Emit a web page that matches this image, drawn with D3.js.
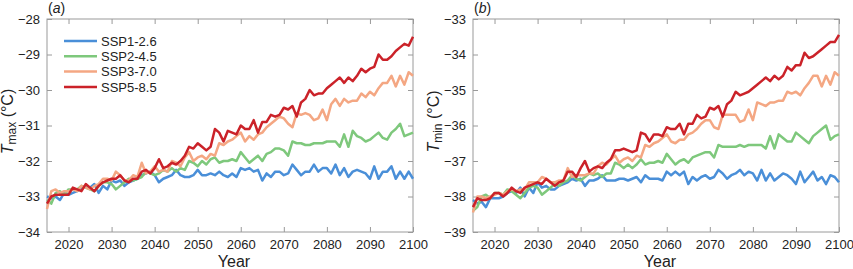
<!DOCTYPE html>
<html>
<head>
<meta charset="utf-8">
<script src="https://cdn.jsdelivr.net/npm/d3@7"></script>
<style>
  body { margin: 0; background: #fff; }
  svg { display: block; font-family: "Liberation Sans", Arial, sans-serif; }
</style>
</head>
<body>
<svg id="chart" width="853" height="269"></svg>
<script>
// years 2015..2100
var years = d3.range(2015, 2101);

var scenarios = ["SSP1-2.6", "SSP2-4.5", "SSP3-7.0", "SSP5-8.5"];
var colours = ["#4a8fd8", "#7ec87c", "#f4a783", "#cb2229"];

// panel (a) Tmax
var tmax126 = [-33.0,-33.05,-33.0,-33.1,-32.9,-32.95,-32.9,-32.85,-32.75,-32.7,-32.75,-32.65,-32.9,-32.7,-32.8,-32.55,-32.6,-32.55,-32.7,-32.6,-32.55,-32.5,-32.4,-32.35,-32.3,-32.4,-32.6,-32.5,-32.45,-32.4,-32.25,-32.4,-32.45,-32.45,-32.4,-32.25,-32.4,-32.4,-32.35,-32.4,-32.3,-32.4,-32.45,-32.35,-32.45,-32.2,-32.25,-32.2,-32.3,-32.25,-32.55,-32.35,-32.45,-32.3,-32.3,-32.4,-32.35,-32.1,-32.25,-32.4,-32.3,-32.3,-32.1,-32.3,-32.2,-32.2,-32.35,-32.1,-32.4,-32.2,-32.45,-32.3,-32.25,-32.3,-32.35,-32.5,-32.15,-32.5,-32.3,-32.3,-32.15,-32.5,-32.3,-32.5,-32.3,-32.5];
var tmax245 = [-33.1,-33.2,-32.9,-32.85,-32.95,-32.8,-32.8,-32.8,-32.7,-32.75,-32.8,-32.85,-32.7,-32.6,-32.6,-32.65,-32.8,-32.7,-32.6,-32.5,-32.55,-32.5,-32.45,-32.3,-32.35,-32.4,-32.35,-32.25,-32.3,-32.2,-32.3,-32.2,-32.25,-32.0,-32.05,-32.15,-32.0,-32.1,-31.95,-31.9,-32.05,-32.0,-32.0,-31.95,-32.0,-31.75,-31.9,-32.05,-31.95,-31.85,-32.0,-31.8,-31.75,-31.65,-31.65,-31.7,-31.85,-31.45,-31.5,-31.5,-31.55,-31.55,-31.5,-31.5,-31.5,-31.45,-31.45,-31.45,-31.6,-31.25,-31.6,-31.15,-31.3,-31.35,-31.45,-31.4,-31.3,-31.2,-31.35,-31.4,-31.2,-31.1,-30.95,-31.3,-31.25,-31.2];
var tmax370 = [-33.35,-32.85,-32.8,-32.9,-32.85,-32.85,-32.8,-32.85,-32.7,-32.75,-32.8,-32.7,-32.65,-32.5,-32.5,-32.55,-32.3,-32.4,-32.55,-32.55,-32.4,-32.45,-32.05,-32.35,-32.3,-32.15,-32.3,-32.25,-32.3,-32.0,-32.05,-32.15,-31.9,-31.75,-32.0,-31.9,-31.85,-31.95,-31.8,-31.85,-31.5,-31.55,-31.45,-31.4,-31.3,-31.2,-31.45,-31.3,-31.4,-31.25,-31.2,-31.05,-30.95,-30.85,-30.75,-30.8,-30.95,-31.05,-30.65,-30.7,-30.65,-30.7,-30.85,-30.8,-30.55,-30.85,-30.4,-30.25,-30.45,-30.25,-30.35,-30.3,-30.3,-30.1,-30.2,-30.05,-30.15,-29.95,-29.8,-29.8,-29.6,-29.9,-29.6,-29.85,-29.5,-29.6];
var tmax585 = [-33.2,-33.0,-32.95,-32.95,-32.95,-32.95,-32.75,-32.8,-32.85,-32.65,-32.75,-32.85,-32.7,-32.6,-32.55,-32.5,-32.5,-32.4,-32.55,-32.6,-32.5,-32.5,-32.3,-32.25,-32.35,-32.2,-31.95,-32.2,-32.15,-32.05,-32.1,-32.0,-31.85,-31.6,-31.65,-31.5,-31.6,-31.7,-31.6,-31.1,-31.2,-31.45,-31.15,-31.2,-31.25,-31.0,-31.1,-31.1,-30.85,-31.2,-30.9,-30.9,-30.7,-30.75,-30.7,-30.5,-30.55,-30.45,-30.75,-30.35,-30.25,-30.0,-30.15,-30.1,-30.1,-29.95,-29.85,-29.75,-29.65,-29.8,-29.65,-29.75,-29.6,-29.4,-29.5,-29.4,-29.35,-29.0,-29.15,-29.15,-29.05,-28.9,-28.8,-28.7,-28.75,-28.5];

// panel (b) Tmin
var tmin126 = [-38.1,-38.2,-38.15,-38.3,-38.05,-38.05,-38.05,-38.0,-37.9,-37.85,-37.9,-37.75,-38.0,-37.75,-37.9,-37.6,-37.75,-37.7,-37.8,-37.8,-37.7,-37.65,-37.6,-37.5,-37.55,-37.5,-37.7,-37.55,-37.55,-37.5,-37.4,-37.55,-37.55,-37.55,-37.5,-37.5,-37.55,-37.5,-37.45,-37.6,-37.4,-37.5,-37.5,-37.5,-37.55,-37.3,-37.4,-37.3,-37.4,-37.3,-37.65,-37.45,-37.55,-37.45,-37.4,-37.5,-37.45,-37.25,-37.35,-37.5,-37.4,-37.35,-37.25,-37.4,-37.3,-37.35,-37.55,-37.25,-37.55,-37.35,-37.55,-37.45,-37.35,-37.4,-37.5,-37.65,-37.3,-37.6,-37.45,-37.3,-37.55,-37.45,-37.65,-37.4,-37.45,-37.6];
var tmin245 = [-38.4,-38.3,-38.0,-37.95,-38.05,-37.9,-37.9,-37.95,-37.8,-37.85,-37.95,-38.05,-37.9,-37.75,-37.7,-37.75,-37.95,-37.85,-37.75,-37.65,-37.7,-37.6,-37.55,-37.4,-37.5,-37.55,-37.45,-37.35,-37.4,-37.35,-37.45,-37.35,-37.35,-37.05,-37.1,-37.2,-37.1,-37.2,-37.1,-36.95,-37.1,-37.05,-37.05,-37.0,-37.05,-36.8,-36.95,-37.1,-37.0,-36.95,-37.05,-36.9,-36.85,-36.8,-36.75,-36.75,-36.9,-36.55,-36.6,-36.6,-36.6,-36.6,-36.55,-36.6,-36.55,-36.55,-36.55,-36.55,-36.65,-36.3,-36.65,-36.25,-36.35,-36.45,-36.45,-36.2,-36.3,-36.4,-36.5,-36.3,-36.2,-36.1,-36.0,-36.4,-36.3,-36.25];
var tmin370 = [-38.45,-38.0,-38.0,-38.05,-38.0,-37.95,-37.9,-37.95,-37.85,-37.8,-37.85,-37.8,-37.8,-37.6,-37.6,-37.6,-37.45,-37.5,-37.6,-37.6,-37.55,-37.55,-37.2,-37.45,-37.4,-37.4,-37.4,-37.35,-37.35,-37.15,-37.05,-37.1,-36.95,-36.85,-37.05,-36.95,-36.9,-37.0,-36.85,-36.9,-36.55,-36.6,-36.5,-36.45,-36.35,-36.25,-36.45,-36.5,-36.4,-36.4,-36.25,-36.2,-36.1,-35.95,-35.85,-35.85,-36.05,-36.1,-35.7,-35.7,-35.7,-35.7,-35.9,-35.85,-35.55,-35.85,-35.35,-35.4,-35.45,-35.35,-35.35,-35.3,-35.3,-35.05,-35.1,-35.05,-35.15,-34.95,-34.8,-34.6,-34.6,-34.9,-34.6,-34.85,-34.5,-34.6];
var tmin585 = [-38.3,-38.05,-38.1,-38.1,-38.05,-37.9,-37.9,-38.0,-37.9,-37.75,-37.85,-37.9,-37.75,-37.7,-37.65,-37.6,-37.65,-37.5,-37.6,-37.7,-37.6,-37.55,-37.3,-37.3,-37.45,-37.2,-37.0,-37.3,-37.2,-37.15,-37.2,-37.05,-36.95,-36.7,-36.7,-36.65,-36.7,-36.75,-36.7,-36.2,-36.25,-36.45,-36.25,-36.25,-36.3,-36.05,-36.1,-36.1,-35.95,-36.25,-35.95,-35.95,-35.7,-35.8,-35.75,-35.5,-35.55,-35.45,-35.75,-35.4,-35.3,-35.05,-35.15,-35.1,-35.05,-34.95,-34.85,-34.75,-34.65,-34.75,-34.6,-34.7,-34.6,-34.35,-34.45,-34.3,-34.3,-33.95,-34.1,-34.05,-33.95,-33.85,-33.75,-33.65,-33.65,-33.45];

var xTicks = [2020, 2030, 2040, 2050, 2060, 2070, 2080, 2090, 2100];

var panels = [
    { tag: "a", sub: "max", domain: [-34, -28], series: [tmax126, tmax245, tmax370, tmax585], x0: 47, x1: 413, legend: true },
    { tag: "b", sub: "min", domain: [-39, -33], series: [tmin126, tmin245, tmin370, tmin585], x0: 473, x1: 839, legend: false }
];

var svg = d3.select("#chart");
var plotTop = 19, plotBottom = 232, tickLen = 5;
var frameColour = "#9a9a9a";

panels.forEach(function (p) {
    var x = d3.scaleLinear().domain([2015, 2100]).range([p.x0, p.x1]);
    var y = d3.scaleLinear().domain(p.domain).range([plotBottom, plotTop]);
    var yTicks = d3.range(p.domain[0], p.domain[1] + 1);
    var g = svg.append("g");

    // bottom and left axes with labels, inward ticks
    g.append("g")
        .attr("transform", `translate(0,${plotBottom})`)
        .call(d3.axisBottom(x).tickValues(xTicks).tickFormat(d3.format("d")).tickSizeInner(-tickLen).tickSizeOuter(0).tickPadding(8));
    g.append("g")
        .attr("transform", `translate(${p.x0},0)`)
        .call(d3.axisLeft(y).tickValues(yTicks).tickFormat((d) => d < 0 ? "\u2212" + Math.abs(d) : d).tickSizeInner(-tickLen).tickSizeOuter(0).tickPadding(7));
    // top and right: ticks only
    g.append("g")
        .attr("transform", `translate(0,${plotTop})`)
        .call(d3.axisTop(x).tickValues(xTicks).tickFormat("").tickSizeInner(-tickLen).tickSizeOuter(0));
    g.append("g")
        .attr("transform", `translate(${p.x1},0)`)
        .call(d3.axisRight(y).tickValues(yTicks).tickFormat("").tickSizeInner(-tickLen).tickSizeOuter(0));

    g.selectAll(".domain").remove();
    g.selectAll(".tick line").attr("stroke", frameColour);
    g.selectAll(".tick text").attr("fill", "#222").style("font-size", "13px");

    // frame
    g.append("rect")
        .attr("x", p.x0).attr("y", plotTop)
        .attr("width", p.x1 - p.x0).attr("height", plotBottom - plotTop)
        .attr("fill", "none").attr("stroke", frameColour).attr("stroke-width", 1);

    var line = d3.line()
        .x((d, i) => x(years[i]))
        .y((d) => y(d));

    g.append("g").selectAll("path")
        .data(p.series)
        .enter().append("path")
        .attr("d", line)
        .attr("fill", "none")
        .attr("stroke", (d, i) => colours[i])
        .attr("stroke-width", 2.5)
        .attr("stroke-linejoin", "round");

    // panel tag (a)/(b)
    var tag = g.append("text")
        .attr("x", p.x0 + 1).attr("y", 13)
        .style("font-size", "14px").attr("fill", "#222");
    tag.append("tspan").text("(");
    tag.append("tspan").style("font-style", "italic").text(p.tag);
    tag.append("tspan").text(")");

    // y label
    var yl = g.append("text")
        .attr("transform", `translate(${p.x0 - 34},${(plotTop + plotBottom) / 2 - 4}) rotate(-90)`)
        .attr("text-anchor", "middle")
        .style("font-size", "16px").attr("fill", "#222");
    yl.append("tspan").style("font-style", "italic").text("T");
    yl.append("tspan").attr("dy", 3).style("font-size", "12px").text(p.sub);
    yl.append("tspan").attr("dy", -3).text(" (\u00b0C)");

    // x label
    g.append("text")
        .attr("x", (p.x0 + p.x1) / 2 + 4).attr("y", 267)
        .attr("text-anchor", "middle")
        .style("font-size", "16px").attr("fill", "#222")
        .text("Year");

    if (p.legend) {
        var leg = g.append("g").selectAll("g")
            .data(scenarios)
            .enter().append("g")
            .attr("transform", (d, i) => `translate(64,${41 + i * 15.3})`);
        leg.append("line")
            .attr("x1", 0).attr("x2", 33)
            .attr("stroke", (d, i) => colours[i])
            .attr("stroke-width", 2.5);
        leg.append("text")
            .attr("x", 37).attr("dy", "0.36em")
            .style("font-size", "13px").attr("fill", "#222")
            .text((d) => d);
    }
});
</script>
</body>
</html>
